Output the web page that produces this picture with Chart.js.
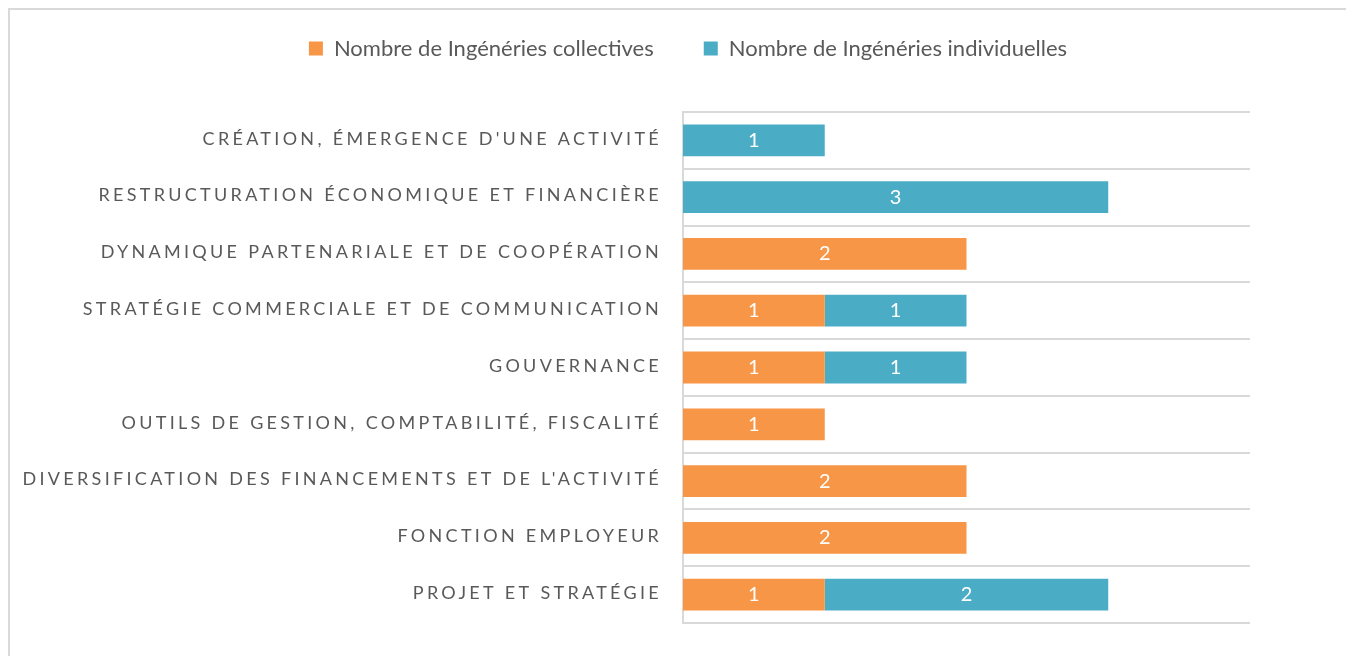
<!DOCTYPE html>
<html>
<head>
<meta charset="utf-8">
<script src="https://cdn.jsdelivr.net/npm/chart.js@4.4.1/dist/chart.umd.min.js"></script>
<style>
  html, body { margin: 0; padding: 0; background: #fff; overflow: hidden; }
  #frame { position: absolute; left: 8px; top: 8px; width: 1400px; height: 700px; border: 2px solid #d9d9d9; box-sizing: border-box; }
  #wrap { position: absolute; left: 0; top: 0; width: 1376px; height: 656px; }
</style>
</head>
<body>
<div id="frame"></div>
<div id="wrap"><canvas id="c" width="1376" height="656"></canvas></div>
<script>
const categories = [
  "CRÉATION, ÉMERGENCE D'UNE ACTIVITÉ",
  "RESTRUCTURATION ÉCONOMIQUE ET FINANCIÈRE",
  "DYNAMIQUE PARTENARIALE ET DE COOPÉRATION",
  "STRATÉGIE COMMERCIALE ET DE COMMUNICATION",
  "GOUVERNANCE",
  "OUTILS DE GESTION, COMPTABILITÉ, FISCALITÉ",
  "DIVERSIFICATION DES FINANCEMENTS ET DE L'ACTIVITÉ",
  "FONCTION EMPLOYEUR",
  "PROJET ET STRATÉGIE"
];
const collectives = [0, 0, 2, 1, 1, 1, 2, 2, 1];
const individuelles = [1, 3, 0, 1, 1, 0, 0, 0, 2];
const seriesNames = ["Nombre de Ingénéries collectives", "Nombre de Ingénéries individuelles"];

const FONT = "Lato, 'Open Sans', sans-serif";
const GRID = "#d9d9d9";

const valueLabels = {
  id: 'valueLabels',
  afterDatasetsDraw(chart) {
    const ctx = chart.ctx;
    ctx.save();
    ctx.fillStyle = '#ffffff';
    ctx.font = "20px " + FONT;
    ctx.textAlign = 'center';
    ctx.textBaseline = 'middle';
    chart.data.datasets.forEach((ds, i) => {
      const meta = chart.getDatasetMeta(i);
      meta.data.forEach((el, j) => {
        const v = ds.data[j];
        if (!v) return;
        const p = el.getCenterPoint();
        ctx.fillText(String(v), p.x, p.y);
      });
    });
    ctx.restore();
  }
};

const layoutTweaks = {
  id: 'layoutTweaks',
  beforeUpdate(chart) {
    const lg = chart.legend;
    if (lg && !lg._patched) {
      const origFit = lg.fit;
      lg.fit = function() { origFit.call(this); this.height += 30; };
      const origDraw = lg.draw;
      lg.draw = function() {
        const ctx = this.ctx;
        ctx.save();
        ctx.translate(63, -12.5);
        origDraw.call(this);
        ctx.restore();
      };
      lg._patched = true;
    }
  },
  afterUpdate(chart) {
    const y = chart.scales.y;
    if (y && !y._spacedPatched) {
      const orig = y.drawLabels;
      y.drawLabels = function(area) {
        const ctx = this.ctx;
        ctx.save();
        ctx.letterSpacing = '3.3px';
        ctx.translate(0, -1.5);
        orig.call(this, area);
        ctx.restore();
      };
      y._spacedPatched = true;
    }
  }
};

new Chart(document.getElementById('c'), {
  type: 'bar',
  data: {
    labels: categories,
    datasets: [
      { label: seriesNames[0], data: collectives, backgroundColor: '#f79646', borderWidth: 0, barPercentage: 0.56, categoryPercentage: 1 },
      { label: seriesNames[1], data: individuelles, backgroundColor: '#4bacc6', borderWidth: 0, barPercentage: 0.56, categoryPercentage: 1 }
    ]
  },
  options: {
    indexAxis: 'y',
    responsive: false,
    animation: false,
    layout: { padding: { left: 0, right: 126, top: 0, bottom: 33 } },
    plugins: {
      legend: {
        position: 'top',
        labels: {
          color: '#595959',
          font: { family: FONT, size: 22 },
          boxWidth: 14,
          boxHeight: 14,
          padding: 50
        }
      },
      tooltip: { enabled: false },
      title: { display: false }
    },
    scales: {
      x: {
        stacked: true,
        min: 0,
        max: 4,
        display: false
      },
      y: {
        stacked: true,
        offset: true,
        grid: { color: GRID, lineWidth: 2, offset: true, drawTicks: false },
        border: { display: true, color: GRID, width: 2 },
        ticks: { color: '#595959', font: { family: FONT, size: 18 }, padding: 21 },
        afterFit(scale) { scale.width = 683; }
      }
    }
  },
  plugins: [valueLabels, layoutTweaks]
});
</script>
</body>
</html>
